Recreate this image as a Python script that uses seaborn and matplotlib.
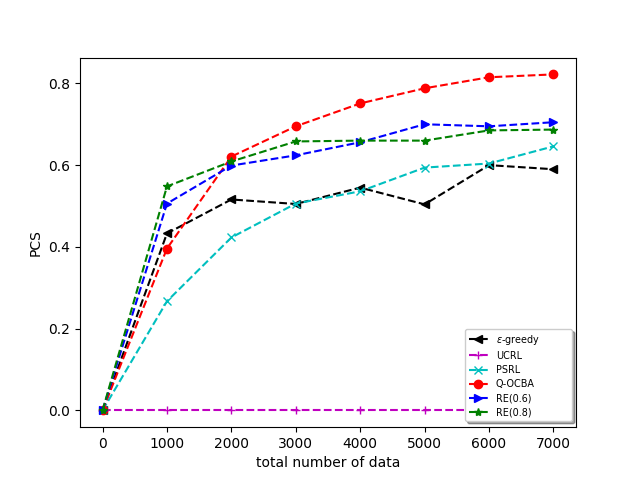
import matplotlib
matplotlib.use('Agg')
import matplotlib.pyplot as plt
import seaborn as sns

# --- Data ---
n_data = [0, 1000, 2000, 3000, 4000, 5000, 6000, 7000]

eps_greedy = [0.0, 0.433, 0.516, 0.505, 0.545, 0.504, 0.600, 0.590]
ucrl = [0.0, 0.0, 0.0, 0.0, 0.0, 0.0, 0.0, 0.0]
psrl = [0.0, 0.267, 0.423, 0.506, 0.536, 0.594, 0.604, 0.646]
q_ocba = [0.0, 0.396, 0.621, 0.695, 0.751, 0.788, 0.815, 0.822]
re_06 = [0.0, 0.506, 0.599, 0.624, 0.656, 0.700, 0.695, 0.705]
re_08 = [0.0, 0.548, 0.609, 0.658, 0.660, 0.660, 0.685, 0.687]

series = [
    (eps_greedy, r'$\epsilon$-greedy', 'k', '<'),
    (ucrl, 'UCRL', 'm', '+'),
    (psrl, 'PSRL', 'c', 'x'),
    (q_ocba, 'Q-OCBA', 'r', 'o'),
    (re_06, 'RE(0.6)', 'b', '>'),
    (re_08, 'RE(0.8)', 'g', '*'),
]

fig, ax = plt.subplots(figsize=(6.4, 4.8), dpi=100)
for vals, name, col, mk in series:
    sns.lineplot(x=n_data, y=vals, ax=ax, color=col, marker=mk, linestyle='--',
                 markeredgecolor=col, markeredgewidth=1.0, label=name)

ax.set_xlabel('total number of data')
ax.set_ylabel('PCS')
# legend is wider than its contents in the reference, so stretch it
ax.legend(loc='lower left', bbox_to_anchor=(0.776, 0.017, 0.216, 0.4),
          mode='expand', borderaxespad=0, fontsize='x-small', shadow=True,
          labelspacing=0.42)
plt.savefig('out.png')
